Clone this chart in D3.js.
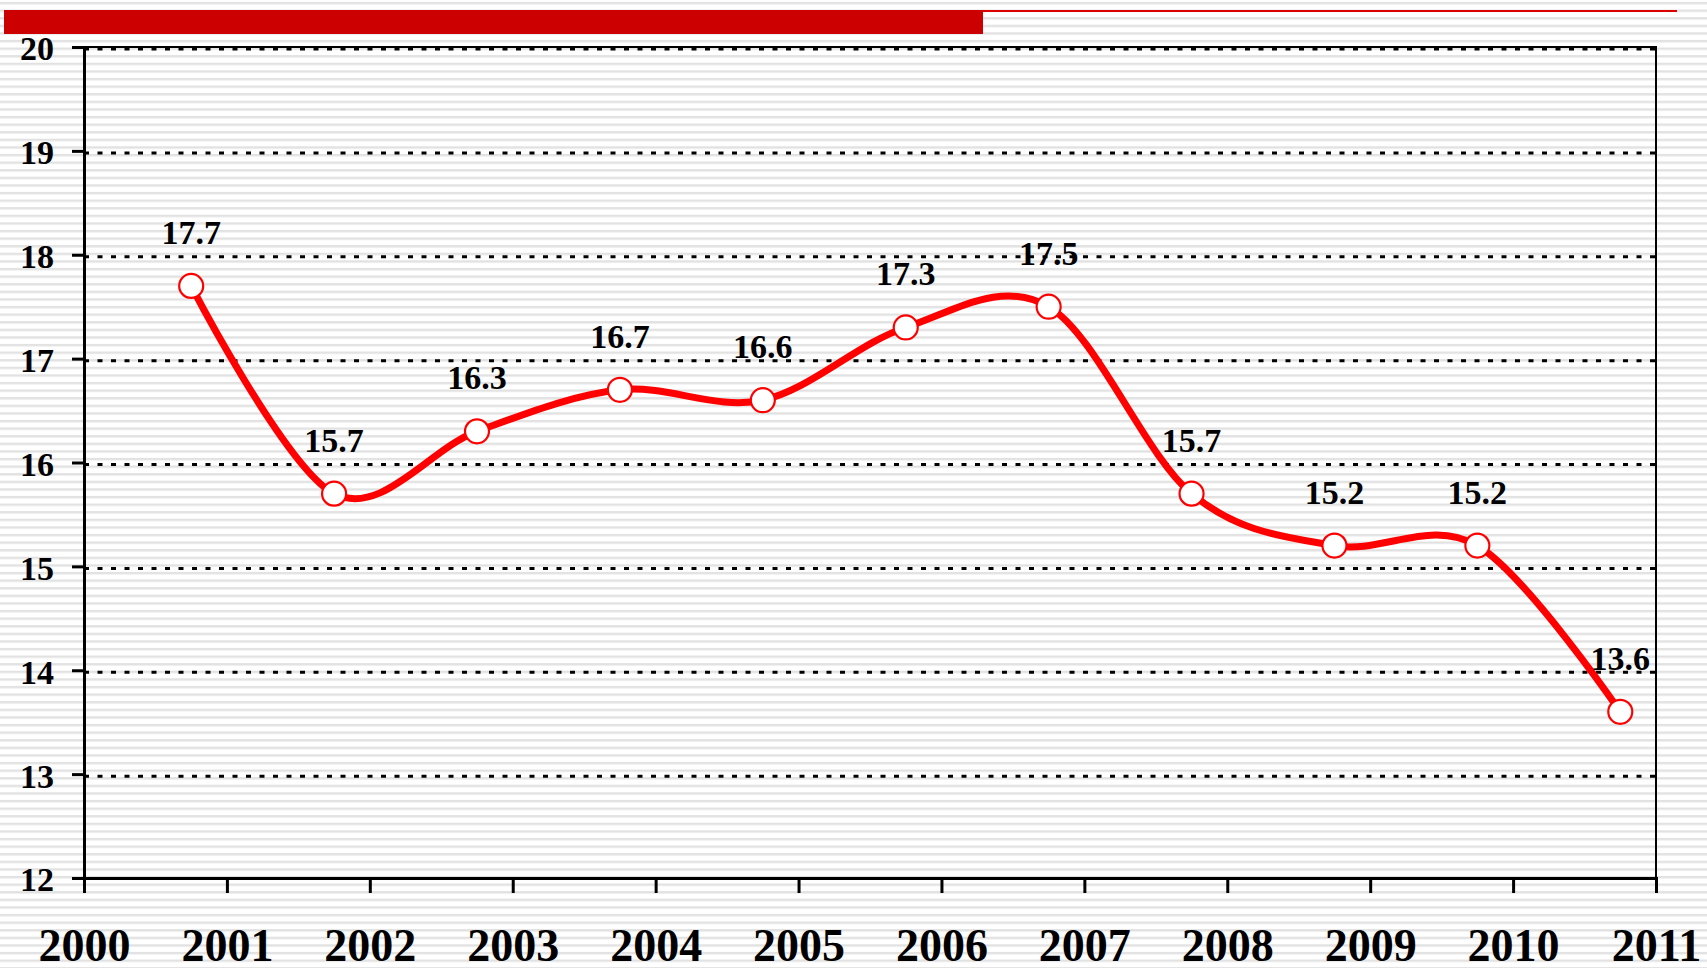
<!DOCTYPE html>
<html>
<head>
<meta charset="utf-8">
<script src="https://cdn.jsdelivr.net/npm/d3@7"></script>
<style>
  html, body { margin: 0; padding: 0; background: #fff; }
  svg { display: block; }
</style>
</head>
<body>
<svg id="chart" width="1707" height="968"></svg>
<script>
// ---- data ----
const years = [2001, 2002, 2003, 2004, 2005, 2006, 2007, 2008, 2009, 2010, 2011];
const values = [17.7, 15.7, 16.3, 16.7, 16.6, 17.3, 17.5, 15.7, 15.2, 15.2, 13.6];
const xTickLabels = [2000, 2001, 2002, 2003, 2004, 2005, 2006, 2007, 2008, 2009, 2010, 2011];
const yTickValues = [12, 13, 14, 15, 16, 17, 18, 19, 20];

(function () {
// ---- layout ----
const W = 1707, H = 968;
const mLeft = 84, mRight = 1656, mTop = 47, mBottom = 878;
const pointOffset = -0.25; // points sit a quarter year before each year tick

const svg = d3.select("#chart");

// striped background
const defs = svg.append("defs");
const pat = defs.append("pattern")
  .attr("id", "stripes").attr("patternUnits", "userSpaceOnUse")
  .attr("x", 0).attr("y", 1.9).attr("width", 20).attr("height", 7.6);
pat.append("rect").attr("width", 20).attr("height", 7.6).attr("fill", "#ffffff");
pat.append("rect").attr("width", 20).attr("height", 2.4).attr("fill", "#e2e2e2");
svg.append("rect").attr("width", W).attr("height", H).attr("fill", "url(#stripes)");

// header decoration
svg.append("rect").attr("x", 4).attr("y", 10).attr("width", 979).attr("height", 24).attr("fill", "#cc0000");
svg.append("rect").attr("x", 983).attr("y", 10).attr("width", 694).attr("height", 2).attr("fill", "#dd0000");

const x = d3.scaleLinear().domain([2000, 2011]).range([mLeft, mRight]);
const y = d3.scaleLinear().domain([12, 20]).range([mBottom, mTop]);

const serif = "'Liberation Serif', 'Times New Roman', serif";

// gridlines
svg.append("g").selectAll("line")
  .data(yTickValues.filter(v => v > 12))
  .join("line")
  .attr("x1", mLeft).attr("x2", mRight)
  .attr("y1", d => y(d) + 2).attr("y2", d => y(d) + 2)
  .attr("stroke", "#000").attr("stroke-width", 3)
  .attr("stroke-dasharray", "5 8.5");

// frame (top and right)
svg.append("path")
  .attr("d", `M${mLeft},${mTop}H${mRight}V${mBottom}`)
  .attr("fill", "none").attr("stroke", "#000").attr("stroke-width", 2);

// y axis
const yAxis = d3.axisLeft(y).tickValues(yTickValues).tickSize(12).tickPadding(18)
  .tickFormat(d3.format("d"));
const gy = svg.append("g").attr("transform", `translate(${mLeft},0)`).call(yAxis);
gy.select(".domain").attr("stroke", "#000").attr("stroke-width", 3);
gy.selectAll(".tick line").attr("stroke", "#000").attr("stroke-width", 3);
gy.selectAll(".tick text")
  .attr("font-family", serif).attr("font-weight", "bold").attr("font-size", 34)
  .attr("fill", "#000").attr("dy", "0.38em");

// x axis
const xAxis = d3.axisBottom(x).tickValues(xTickLabels).tickSize(15).tickPadding(35)
  .tickFormat(d3.format("d"));
const gx = svg.append("g").attr("transform", `translate(0,${mBottom})`).call(xAxis);
gx.select(".domain").attr("stroke", "#000").attr("stroke-width", 3);
gx.selectAll(".tick line").attr("stroke", "#000").attr("stroke-width", 3);
gx.selectAll(".tick text")
  .attr("font-family", serif).attr("font-weight", "bold").attr("font-size", 46)
  .attr("fill", "#000");

// data
const pts = years.map((yr, i) => ({ x: yr + pointOffset, v: values[i] }));

const line = d3.line().x(d => x(d.x)).y(d => y(d.v)).curve(d3.curveCardinal.tension(0));
svg.append("path").datum(pts)
  .attr("d", line)
  .attr("fill", "none").attr("stroke", "#ff0000").attr("stroke-width", 7)
  .attr("stroke-linejoin", "round");

svg.append("g").selectAll("circle").data(pts).join("circle")
  .attr("cx", d => x(d.x)).attr("cy", d => y(d.v)).attr("r", 12)
  .attr("fill", "#fff").attr("stroke", "#ff0000").attr("stroke-width", 2.2);

svg.append("g").selectAll("text").data(pts).join("text")
  .attr("x", d => x(d.x)).attr("y", d => y(d.v) - 42)
  .attr("text-anchor", "middle")
  .attr("font-family", serif).attr("font-weight", "bold").attr("font-size", 34)
  .attr("fill", "#000")
  .text(d => d.v.toFixed(1));
})();
</script>
</body>
</html>
